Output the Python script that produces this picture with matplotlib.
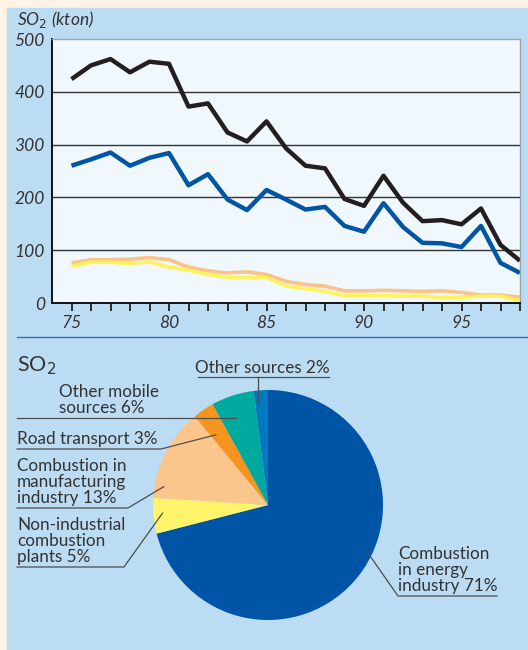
import numpy as np
import matplotlib.pyplot as plt
from matplotlib.patches import Rectangle

plt.rcParams['font.family'] = ['Lato', 'DejaVu Sans']

# time series, kton SO2
years = list(range(75, 99))
total = [424, 450, 462, 437, 457, 453, 372, 378, 323, 306, 344, 293,
         260, 255, 197, 184, 241, 190, 155, 157, 149, 179, 110, 80]
energy = [260, 272, 285, 260, 275, 284, 223, 244, 196, 176, 214, 196,
          177, 182, 146, 135, 189, 144, 114, 113, 106, 146, 76, 57]
manuf = [76, 82, 82, 83, 86, 82, 68, 61, 57, 59, 54, 41,
         35, 32, 23, 23, 24, 23, 22, 23, 20, 15, 15, 11]
nonind = [70, 77, 77, 75, 78, 68, 62, 54, 49, 48, 48, 32,
          27, 22, 14, 14, 14, 13, 13, 10, 11, 13, 13, 4]

# pie shares
pie_labels = ['Combustion\nin energy\nindustry 71%', 'Non-industrial\ncombustion\nplants 5%',
              'Combustion in\nmanufacturing\nindustry 13%', 'Road transport 3%',
              'Other mobile\nsources 6%', 'Other sources 2%']
pie_vals = [71, 5, 13, 3, 6, 2]
pie_cols = ['#0054a6', '#fff46a', '#fbc68c', '#f7941d', '#00a99d', '#0079c2']

W, H = 528, 650
fig = plt.figure(figsize=(W / 100, H / 100), dpi=100, facecolor='#fef3e5')

# background / pie axes in pixel units (y up)
bg = fig.add_axes([0, 0, 1, 1], zorder=0)
bg.add_patch(Rectangle((7, 0), W - 7, H - 8, color='#bcdcf3', zorder=0))
bg.plot([17, W], [H - 337, H - 337], color='#2f6fba', lw=1.0)

cx, cy, r = 268, H - 505, 115
wedges, _ = bg.pie(pie_vals, colors=pie_cols, startangle=90, counterclock=False,
                   center=(cx, cy), radius=r, wedgeprops=dict(linewidth=0))
bg.set_xlim(0, W)
bg.set_ylim(0, H)
bg.set_aspect('equal')
bg.axis('off')

txt = dict(fontsize=12.3, color='#333333', linespacing=1.0)
ulc = '#4d4d4d'

def wedge_pt(i, frac, dang=0.0):
    w = wedges[i]
    a = np.deg2rad((w.theta1 + w.theta2) / 2 + dang)
    return cx + frac * r * np.cos(a), cy + frac * r * np.sin(a)

bg.text(17, H - 366, 'SO$_2$', fontsize=15.5, color='#333333', va='center')

# Other sources
px, py = wedge_pt(5, 0.9, 2)
bg.text(195, H - 376, pie_labels[5], va='bottom', **txt)
bg.plot([198, 329], [H - 377, H - 377], color=ulc, lw=0.9)
bg.plot([px, px], [H - 377, py], color=ulc, lw=0.9)

# Other mobile
bg.text(59, H - 416, pie_labels[4], va='bottom', **txt)
px, py = wedge_pt(4, 0.81, 2)
bg.plot([17, px], [H - 418, H - 418], color=ulc, lw=0.9)

# Road transport
bg.text(17, H - 447, pie_labels[3], va='bottom', **txt)
px, py = wedge_pt(3, 0.76, 2.4)
bg.plot([17, 161, px], [H - 449, H - 449, py], color=ulc, lw=0.9)

# Manufacturing
bg.text(17, H - 506, pie_labels[2], va='bottom', **txt)
px, py = wedge_pt(2, 0.92, 17)
bg.plot([17, 128, px], [H - 508, H - 508, py], color=ulc, lw=0.9)

# Non-industrial
bg.text(17, H - 565, pie_labels[1], va='bottom', **txt)
px, py = wedge_pt(1, 0.92, -1)
bg.plot([17, 124, px], [H - 567, H - 567, py], color=ulc, lw=0.9)

# Energy
bg.text(398, H - 594, pie_labels[0], va='bottom', **txt)
px, py = wedge_pt(0, 0.94, 13)
bg.plot([497, 398, px], [H - 596, H - 596, py], color=ulc, lw=0.9)

# line chart
ax = fig.add_axes([52 / W, (H - 303) / H, (520 - 52) / W, (303 - 39) / H], zorder=2)
ax.set_facecolor('#f0f8fe')
ax.plot(years, manuf, color='#fbc38a', lw=2.6, solid_capstyle='butt')
ax.plot(years, nonind, color='#fff35c', lw=2.6, solid_capstyle='butt')
ax.plot(years, energy, color='#0055a5', lw=3.2, solid_capstyle='butt')
ax.plot(years, total, color='#231f20', lw=3.2, solid_capstyle='butt')
ax.set_xlim(74, 98)
ax.set_ylim(0, 500)
ax.set_yticks([0, 100, 200, 300, 400, 500])
ax.set_xticks([75, 80, 85, 90, 95])
ax.set_xticks(years, minor=True)
for v in [100, 200, 300, 400]:
    ax.axhline(v, color='#333333', lw=1.0, zorder=0.5)
for s in ['top', 'right']:
    ax.spines[s].set_color('#9aa4ab')
    ax.spines[s].set_linewidth(1.0)
for s in ['left', 'bottom']:
    ax.spines[s].set_color('#111111')
    ax.spines[s].set_linewidth(1.4)
ax.tick_params(axis='y', length=0, pad=5, labelsize=12.5, labelcolor='#333333')
ax.tick_params(axis='x', which='both', direction='out', length=6, width=1.2,
               color='#111111', labelsize=12.5, labelcolor='#333333', pad=3)
for lab in ax.get_xticklabels() + ax.get_yticklabels():
    lab.set_fontstyle('italic')
fig.text(17 / W, 1 - 20 / H, 'SO$_2$ (kton)', fontsize=12.5, style='italic',
         color='#333333', va='center')

fig.savefig('out.png', dpi=100, facecolor=fig.get_facecolor())
